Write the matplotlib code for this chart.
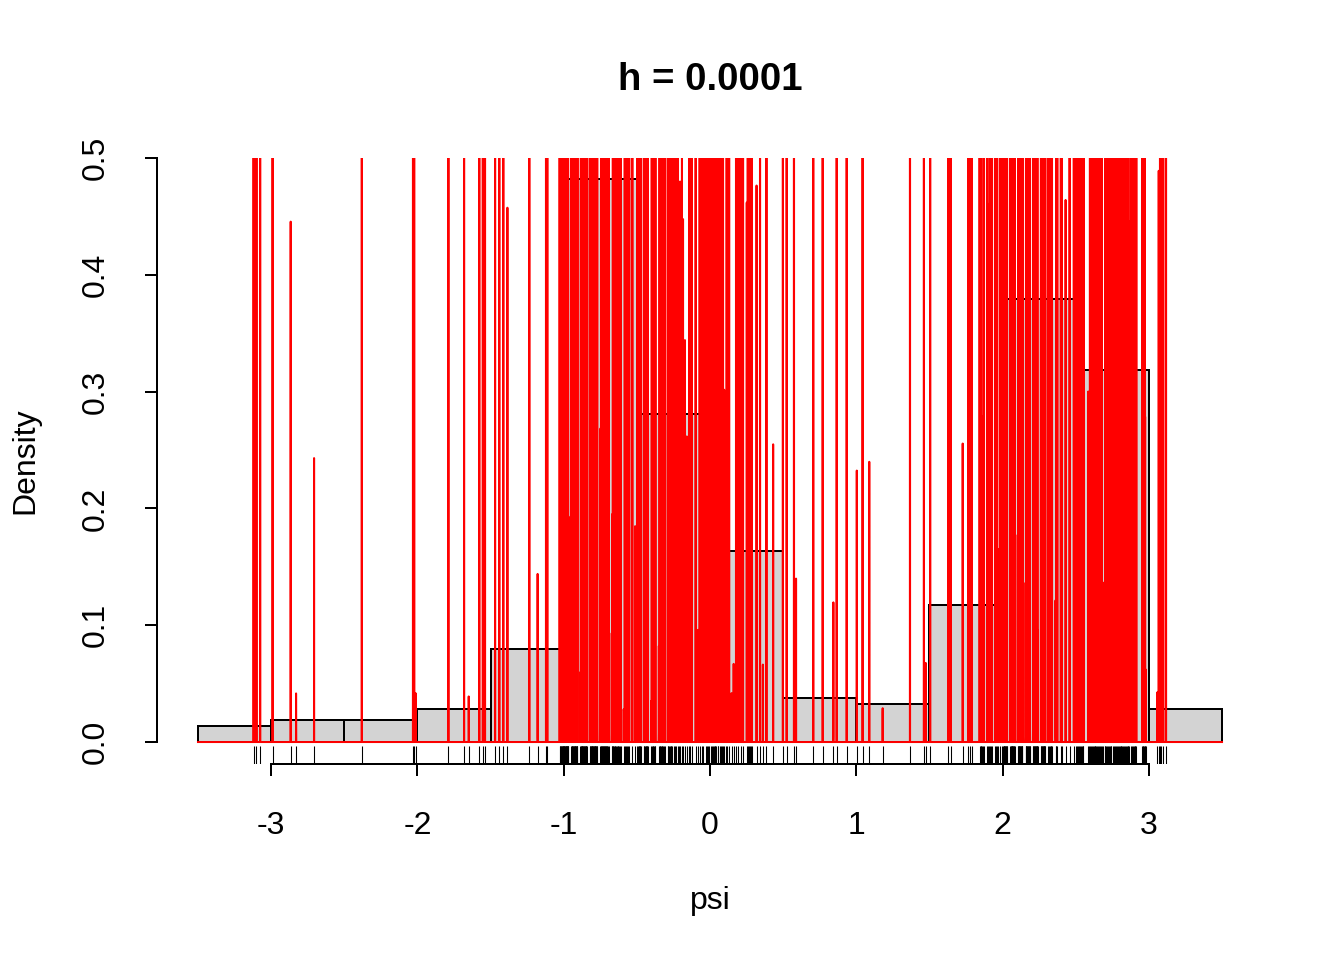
import numpy as np
import matplotlib.pyplot as plt

plt.rcParams['font.family'] = ['Liberation Sans', 'DejaVu Sans']
plt.rcParams['axes.unicode_minus'] = False
plt.rcParams['path.simplify'] = False

psi_left_tail = [-3.120, -3.100, -3.075,
                 -2.990, -2.866, -2.829, -2.706,
                 -2.380, -2.030, -2.022, -2.012,
                 -1.788, -1.681, -1.649, -1.577, -1.553, -1.538,
                 -1.469, -1.440, -1.413, -1.385, -1.235, -1.178, -1.121, -1.112]
psi_near_minus1 = [-1.028, -1.024, -1.020, -1.016, -1.012, -1.009, -1.006, -1.004, -1.002]
psi_peak_a = [-0.999, -0.997, -0.995, -0.992, -0.990, -0.987, -0.985, -0.982, -0.980, -0.977,
              -0.975, -0.972, -0.970, -0.968,
              -0.948, -0.945, -0.943, -0.940, -0.937, -0.935, -0.932, -0.929, -0.926, -0.924,
              -0.921, -0.918, -0.915, -0.912, -0.909, -0.906,
              -0.886, -0.883, -0.880, -0.878, -0.875, -0.872, -0.869, -0.866, -0.863, -0.860,
              -0.857, -0.854, -0.851, -0.848, -0.845, -0.842,
              -0.822, -0.819, -0.816, -0.813, -0.810, -0.807, -0.804, -0.801, -0.798, -0.795,
              -0.792, -0.789, -0.786, -0.783, -0.780, -0.777, -0.774, -0.771,
              -0.752, -0.748, -0.745, -0.741, -0.738, -0.734, -0.731, -0.727, -0.724, -0.720,
              -0.716, -0.713, -0.709, -0.705, -0.701, -0.697, -0.693,
              -0.672, -0.668, -0.664, -0.660, -0.655, -0.651, -0.646, -0.641, -0.636, -0.631,
              -0.626, -0.621, -0.616, -0.611,
              -0.590, -0.583, -0.576, -0.569, -0.561, -0.552, -0.531, -0.512]
psi_shoulder_a = [-0.496, -0.492, -0.488, -0.484, -0.480, -0.476, -0.472,
                  -0.452, -0.448, -0.444, -0.440, -0.436, -0.432, -0.428, -0.424,
                  -0.402, -0.398, -0.393, -0.388, -0.383, -0.378, -0.373,
                  -0.350, -0.345, -0.340, -0.335, -0.330, -0.325, -0.320, -0.315, -0.310,
                  -0.289, -0.284, -0.279, -0.274, -0.269, -0.264, -0.259,
                  -0.243, -0.237, -0.232, -0.219, -0.212, -0.205, -0.192, -0.184, -0.171, -0.158,
                  -0.141, -0.134, -0.126, -0.098, -0.082, -0.071, -0.058, -0.046, -0.029, -0.021,
                  -0.012, -0.004]
psi_low_pos = [0.008, 0.014, 0.019, 0.026, 0.031, 0.037, 0.044, 0.052, 0.058, 0.066,
               0.073, 0.081, 0.089, 0.097, 0.106, 0.114,
               0.131, 0.147, 0.162, 0.178, 0.193, 0.209, 0.226,
               0.251, 0.258, 0.264, 0.271, 0.279, 0.286,
               0.318, 0.342, 0.361, 0.386, 0.432, 0.498]
psi_gap = [0.524, 0.574, 0.588, 0.706, 0.770, 0.843, 0.866, 0.934,
           1.003, 1.043, 1.089, 1.180, 1.367, 1.462, 1.474,
           1.505, 1.628, 1.645, 1.727, 1.765, 1.777, 1.790]
psi_rise_b = [1.843, 1.849, 1.855, 1.861, 1.867, 1.873, 1.896, 1.902, 1.908, 1.914,
              1.920, 1.926, 1.948, 1.955, 1.962, 1.969, 1.981, 1.993]
psi_peak_b = [2.004, 2.007, 2.010, 2.013, 2.016, 2.019, 2.022, 2.025, 2.028, 2.031,
              2.052, 2.055, 2.058, 2.061, 2.064, 2.067, 2.070, 2.073, 2.076, 2.079, 2.082,
              2.103, 2.106, 2.109, 2.112, 2.115, 2.118, 2.121, 2.124, 2.127, 2.130, 2.133, 2.136,
              2.157, 2.160, 2.163, 2.166, 2.169, 2.172, 2.175, 2.178, 2.181, 2.184, 2.187,
              2.208, 2.211, 2.214, 2.217, 2.220, 2.223, 2.226, 2.229, 2.232, 2.235, 2.238, 2.241,
              2.262, 2.265, 2.268, 2.271, 2.274, 2.277, 2.280, 2.283, 2.286, 2.289, 2.292,
              2.313, 2.318, 2.323, 2.328, 2.333, 2.338,
              2.362, 2.368, 2.374, 2.398, 2.404, 2.431, 2.458, 2.487]
psi_upper_b = [2.503, 2.509, 2.516, 2.522, 2.529, 2.535, 2.542, 2.548, 2.553, 2.585,
               2.591, 2.597, 2.604, 2.610, 2.616, 2.622, 2.629, 2.635, 2.641, 2.647,
               2.653, 2.660, 2.666, 2.672, 2.678, 2.684, 2.697, 2.703, 2.709, 2.715,
               2.721, 2.727, 2.733, 2.739, 2.744, 2.758, 2.764, 2.770, 2.776, 2.782,
               2.788, 2.794, 2.800, 2.806, 2.812, 2.818, 2.824, 2.830, 2.836, 2.842,
               2.848, 2.854, 2.860, 2.866, 2.878, 2.884, 2.890, 2.896, 2.902, 2.908,
               2.914, 2.955, 2.959, 2.963, 2.967, 2.971, 2.974, 2.978]
psi_right_tail = [3.058, 3.067, 3.076, 3.085, 3.098, 3.117]

breaks = [-3.5, -3.0, -2.5, -2.0, -1.5, -1.0, -0.5, 0.0, 0.5, 1.0, 1.5, 2.0, 2.5, 3.0, 3.5]
h = 0.0001
grid_range = (-3.5, 3.5)
grid_size = 10240
x_ticks = [-3, -2, -1, 0, 1, 2, 3]
y_ticks = [0.0, 0.1, 0.2, 0.3, 0.4, 0.5]

psi = np.array(psi_left_tail + psi_near_minus1 + psi_peak_a + psi_shoulder_a + psi_low_pos
               + psi_gap + psi_rise_b + psi_peak_b + psi_upper_b + psi_right_tail)


def kde_gauss(data, h, grid):
    # estimador de densidad con nucleo gaussiano evaluado en la rejilla
    u = (grid[:, None] - data[None, :]) / h
    return np.exp(-0.5 * u ** 2).sum(axis=1) / (len(data) * h * np.sqrt(2 * np.pi))


fig = plt.figure(figsize=(7, 5), dpi=192)
ax = fig.add_axes([157 / 1344, 196 / 960, (1263 - 157) / 1344, (764 - 158) / 960])

y_lo = -0.0188
ax.hist(psi, bins=breaks, density=True, color='#d3d3d3', edgecolor='black', linewidth=0.75)

# rug
ax.vlines(psi, y_lo, y_lo + 0.03 * (0.5 - y_lo), color='black', linewidth=0.4)

grid = np.linspace(grid_range[0], grid_range[1], grid_size)
dens = kde_gauss(psi, h, grid)
ax.plot(grid, dens, color='red', linewidth=0.75)

ax.set_xlim(-3.78, 3.78)
ax.set_ylim(y_lo, 0.5)

ax.spines['top'].set_visible(False)
ax.spines['right'].set_visible(False)
ax.spines['left'].set_bounds(0, 0.5)
ax.spines['bottom'].set_bounds(-3, 3)
ax.spines['left'].set_linewidth(0.75)
ax.spines['bottom'].set_linewidth(0.75)

ax.set_xticks(x_ticks)
ax.set_xticklabels([str(t) for t in x_ticks])
ax.set_yticks(y_ticks)
ax.set_yticklabels(['%.1f' % t for t in y_ticks], rotation=90, va='center')
ax.tick_params(length=4.5, width=0.75, labelsize=12, pad=13)

fig.text(710 / 1344, 1 - 80 / 960, 'h = 0.0001', ha='center', va='center',
         fontsize=14.4, fontweight='bold')
fig.text(710 / 1344, 1 - 901 / 960, 'psi', ha='center', va='center', fontsize=12)
fig.text(25 / 1344, 1 - 461 / 960, 'Density', ha='center', va='center', fontsize=12,
         rotation=90)

fig.savefig('out.png', dpi=192)
